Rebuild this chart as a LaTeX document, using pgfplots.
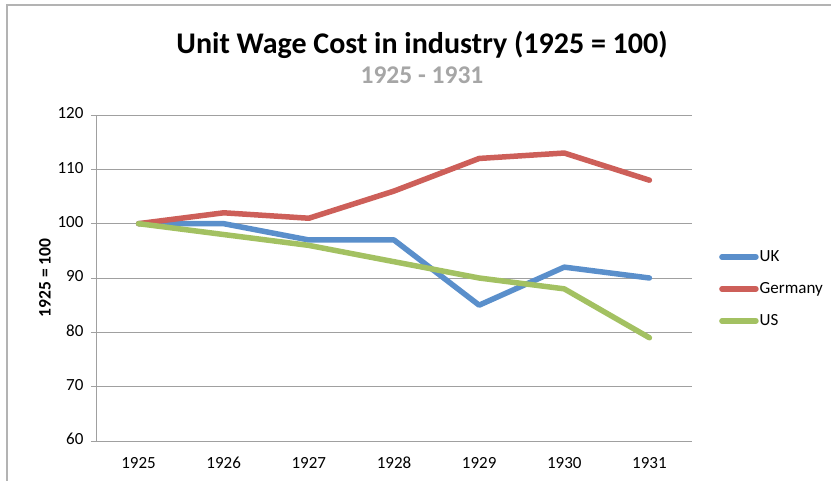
\documentclass[border=0pt]{standalone}
\usepackage{pgfplots}
\pgfplotsset{compat=1.18}
\usepackage{fontspec}
\setmainfont{Carlito}
\definecolor{ukblue}{HTML}{5A8FCB}
\definecolor{dered}{HTML}{CD5F59}
\definecolor{usgreen}{HTML}{A3C162}
\definecolor{gridgray}{HTML}{A0A0A0}
\begin{document}
\begin{tikzpicture}
\useasboundingbox (-96pt,-40pt) rectangle (735pt,441pt);
\draw[gridgray!80, line width=1.5pt] (-89pt,-40pt) -- (-89pt,436pt) -- (735pt,436pt);
\node[font=\fontsize{30}{34}\selectfont\bfseries] at (326pt,396pt) {Unit Wage Cost in industry (1925 = 100)};
\node[font=\fontsize{25.5}{28}\selectfont\bfseries, text=gray!70] at (326pt,366pt) {1925 - 1931};
\begin{axis}[
  at={(0pt,0pt)}, anchor=south west,
  scale only axis, width=596pt, height=326pt,
  xmin=-0.5, xmax=6.5, ymin=60, ymax=120,
  xtick={0,1,2,3,4,5,6},
  xticklabels={1925,1926,1927,1928,1929,1930,1931},
  ytick={60,70,80,90,100,110,120},
  axis x line*=bottom, axis y line*=left,
  axis line style={gridgray, line width=0.9pt, -},
  ymajorgrids, grid style={gridgray, line width=0.9pt},
  x tick style={draw=none},
  y tick style={gridgray, line width=0.9pt},
  tick align=outside, major tick length=5pt,
  tick label style={font=\fontsize{17}{19}\selectfont},
  typeset ticklabels with strut,
  /pgf/number format/assume math mode=true,
  xticklabel style={yshift=-6pt},
  yticklabel style={xshift=-4pt},
  ylabel={1925 = 100},
  every axis y label/.style={at={(-51pt,0.5)}, rotate=90, anchor=center, font=\fontsize{17.5}{19}\selectfont\bfseries},
  legend style={draw=none, at={(623pt,152pt)}, anchor=west, font=\fontsize{17}{19}\selectfont,
    row sep=17.5pt, inner sep=0pt, nodes={inner sep=1pt}},
  legend cell align=left,
  legend image code/.code={\draw[#1] (0pt,0pt) -- (34pt,0pt);},
  every axis plot/.append style={line width=5.5pt, line cap=round, line join=round},
]
\addplot[ukblue] coordinates {(0,100) (1,100) (2,97) (3,97) (4,85) (5,92) (6,90)};
\addlegendentry{UK}
\addplot[dered] coordinates {(0,100) (1,102) (2,101) (3,106) (4,112) (5,113) (6,108)};
\addlegendentry{Germany}
\addplot[usgreen] coordinates {(0,100) (1,98) (2,96) (3,93) (4,90) (5,88) (6,79)};
\addlegendentry{US}
\end{axis}
\end{tikzpicture}
\end{document}
